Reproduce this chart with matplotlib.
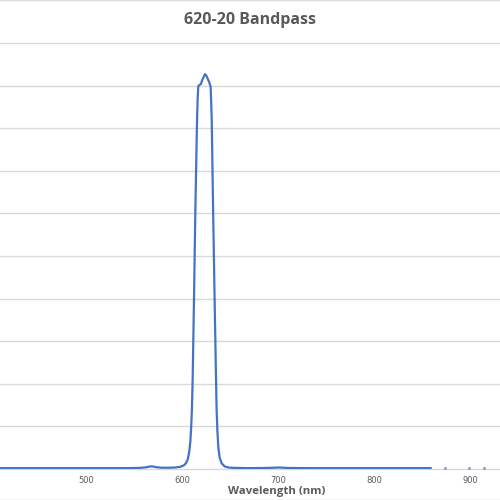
import matplotlib
matplotlib.use("Agg")
import matplotlib.pyplot as plt
from matplotlib.lines import Line2D
import numpy as np

# Data
wavelength = [409, 420, 440, 460, 480, 500, 520, 540, 555, 562, 566, 569, 572, 578,
              585, 592, 597.4, 601, 603.5, 605.5, 607, 608.2, 609.1, 609.8, 610.6,
              612, 613.5, 615, 615.8, 616.5, 618, 619.3, 620.5, 622, 623.5, 625,
              626.5, 628, 629.4, 630.5, 632, 633.5, 635, 635.6, 636.4, 637.4, 638.8,
              641, 644, 647.8, 655, 670, 690, 700, 710, 730, 760, 800, 830, 859]
transmission = [0.2, 0.2, 0.2, 0.2, 0.2, 0.2, 0.2, 0.2, 0.25, 0.4, 0.6, 0.6, 0.45, 0.3,
                0.3, 0.35, 0.5, 0.8, 1.3, 2.3, 4.0, 6.5, 10.0, 14.0, 21.0,
                40.0, 62.0, 80.0, 87.0, 89.9, 90.2, 90.4, 91.3, 92.0, 92.7, 92.3,
                91.5, 90.7, 89.7, 82.0, 60.0, 40.0, 21.0, 14.0, 9.0, 5.0, 2.6,
                1.3, 0.6, 0.35, 0.25, 0.2, 0.25, 0.35, 0.25, 0.2, 0.2, 0.2, 0.2, 0.2]
tail_wavelength = [874, 899, 915]
tail_transmission = [0.15, 0.15, 0.15]

title = "620-20 Bandpass"
x_label = "Wavelength (nm)"
x_ticks = [500, 600, 700, 800, 900]
y_grid = [0, 10, 20, 30, 40, 50, 60, 70, 80, 90, 100, 110]

text_color = "#595959"
grid_color = "#D9D9D9"
line_color = "#4472C4"

fig = plt.figure(figsize=(5, 5), dpi=100)
ax = fig.add_axes([0.0, 31 / 500, 1.0, 469 / 500])
ax.set_xlim(409.5, 931.4)
ax.set_ylim(0, 110.1)

for g in y_grid:
    ax.axhline(g, color=grid_color, lw=1.0, zorder=1, clip_on=False)

ax.plot(wavelength, transmission, color=line_color, lw=1.6, zorder=3,
        solid_joinstyle="round")
ax.plot(tail_wavelength, tail_transmission, ls="none", marker="s", ms=1.0,
        color="#7F9FD8", zorder=3)

for s in ax.spines.values():
    s.set_visible(False)
ax.set_yticks([])
ax.set_xticks(x_ticks)
ax.set_xticklabels([str(t) for t in x_ticks])
ax.tick_params(axis="x", length=0, pad=5, labelsize=6, labelcolor=text_color)

fig.text(0.5, 1 - 20 / 500, title, ha="center", va="center", fontsize=11.5,
         fontweight="bold", color=text_color, family="Open Sans")
fig.text(277 / 500, 1 - 491.5 / 500, x_label, ha="center", va="center",
         fontsize=8.2, fontweight="bold", color=text_color, family="Open Sans")

fig.add_artist(Line2D([0, 1], [0.5 / 500, 0.5 / 500], color=grid_color, lw=1.0,
                      transform=fig.transFigure))

fig.savefig("out.png", dpi=100)
